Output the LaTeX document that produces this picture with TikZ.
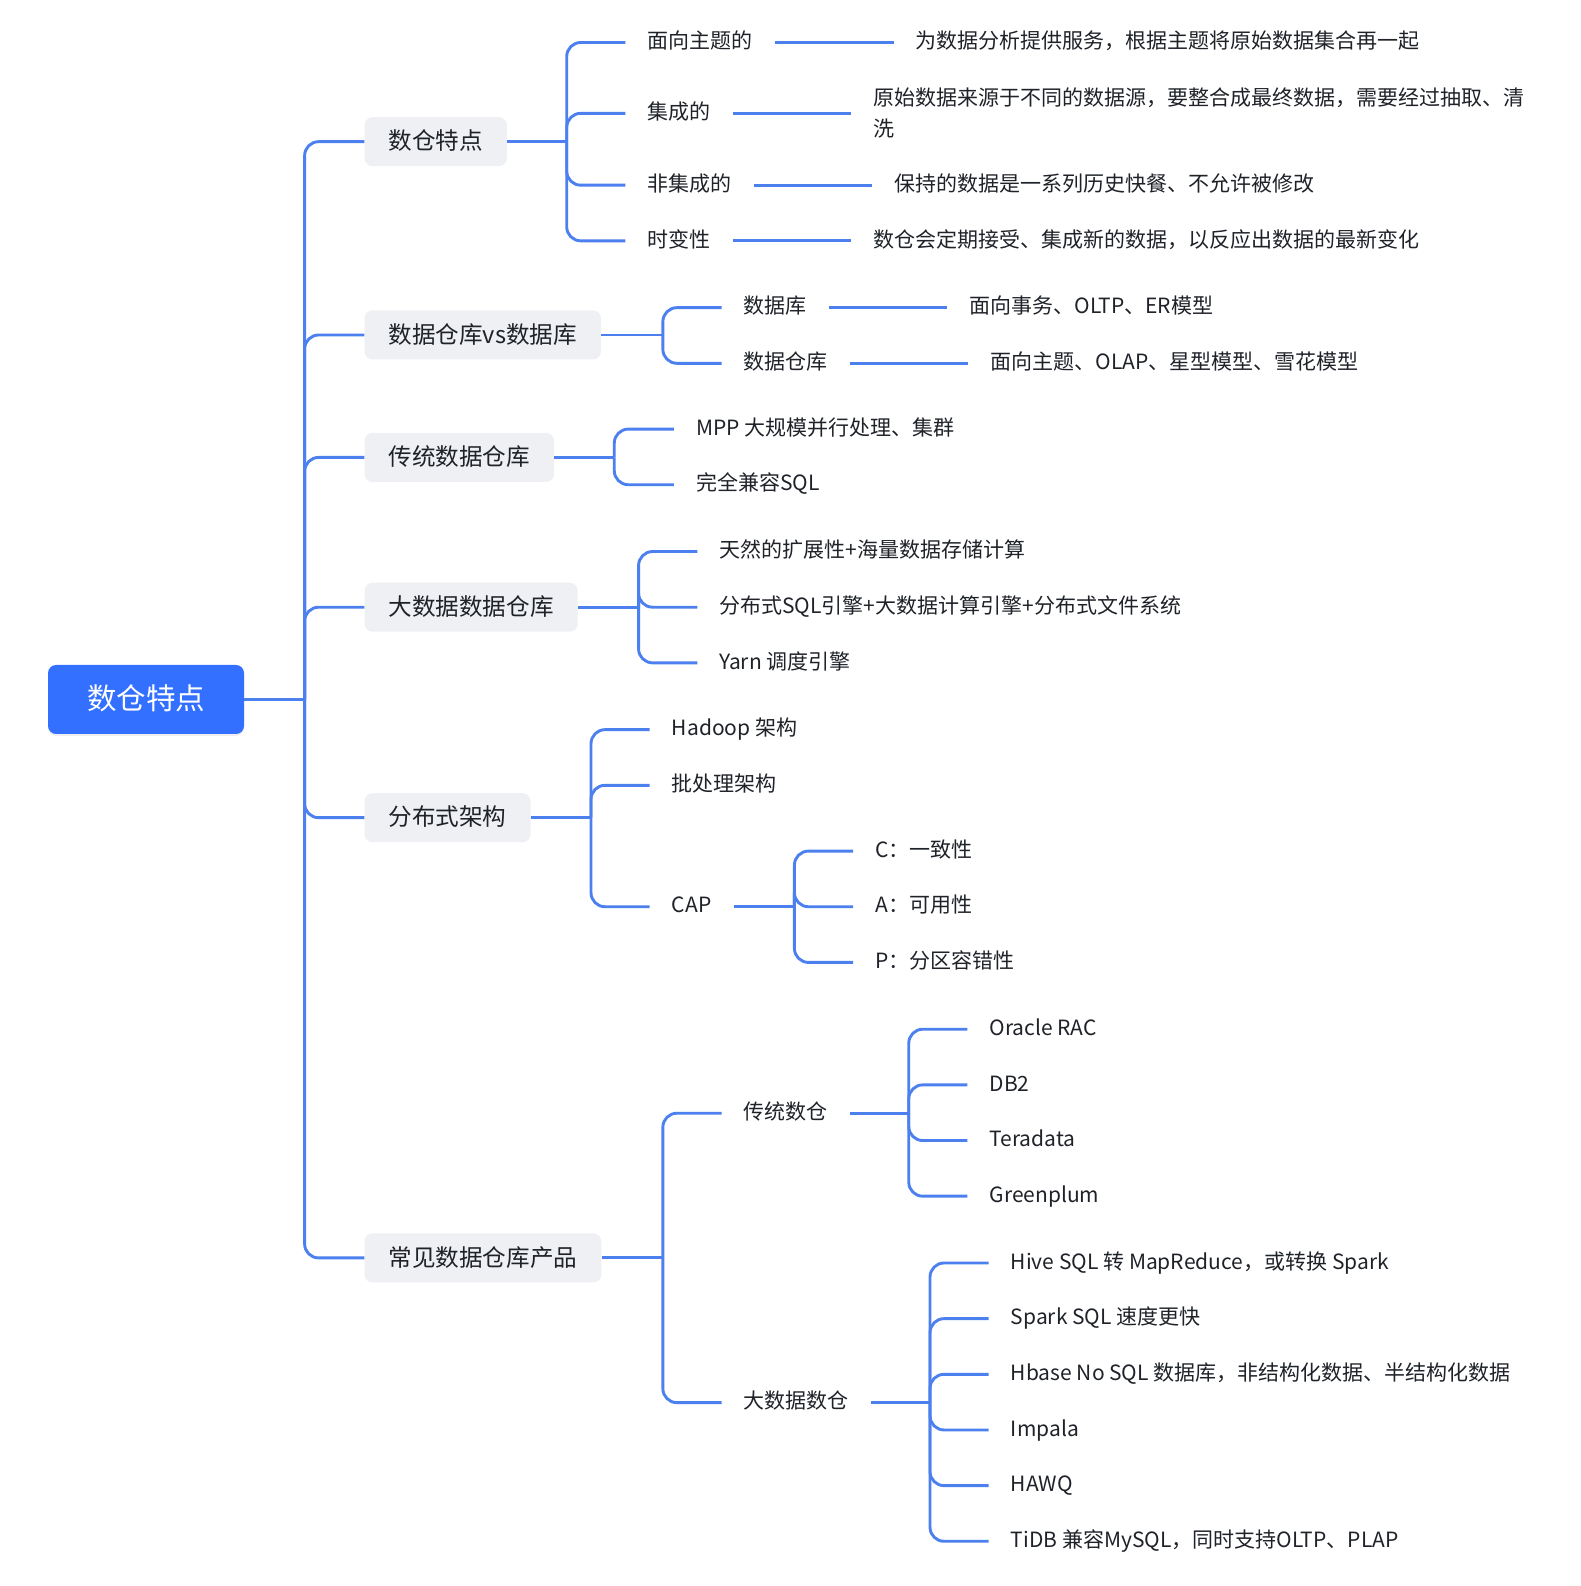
\documentclass[tikz,border=0pt]{standalone}
\usepackage{fontspec}
\setmainfont{Noto Sans CJK SC}
\usetikzlibrary{shadows}
\definecolor{lc}{HTML}{4D80EF}
\definecolor{rootc}{HTML}{3370FF}
\definecolor{grayc}{HTML}{EFF0F3}
\definecolor{txt}{HTML}{1F2329}
\begin{document}
\begin{tikzpicture}[x=1.012pt,y=-1.012pt,
  conn/.style={draw=lc,line width=2.9pt},
  branch/.style={conn,rounded corners=14pt},
  rootbox/.style={fill=rootc,rounded corners=8pt,text=white,font=\fontsize{29.5}{34}\selectfont,minimum width=196pt,minimum height=69pt,inner sep=0pt,text height=22pt,text depth=1.4pt,drop shadow={opacity=0.12,shadow xshift=0pt,shadow yshift=-2pt}},
  lone/.style={fill=grayc,rounded corners=8pt,text=txt,font=\fontsize{23.6}{28}\selectfont,inner xsep=24pt,inner ysep=0pt,minimum height=49pt,anchor=west,text height=18pt,text depth=1.4pt},
  leaf/.style={text=txt,font=\fontsize{21}{31}\selectfont,inner xsep=22pt,inner ysep=3pt,anchor=west,align=left,text height=15pt,text depth=2.6pt}]
\useasboundingbox (0pt,0pt) rectangle (1580pt,-1586pt);
\fill[white] (0pt,0pt) rectangle (1580pt,-1586pt);

% root
\node[rootbox] (root) at (144.3,691.2) {数仓特点};
\coordinate (T) at (301,691.2);
\draw[conn] (root.east) -- (T);

% level 1
\node[lone] (a) at (360,140) {数仓特点};
\node[lone] (b) at (360,331) {数据仓库vs数据库};
\node[lone] (c) at (360,452) {传统数据仓库};
\node[lone] (d) at (360,600) {大数据数据仓库};
\node[lone] (e) at (360,808) {分布式架构};
\node[lone] (f) at (360,1243) {常见数据仓库产品};
\foreach \n in {a,b,c,d,e,f} \draw[branch] (T) |- (\n.west);

% a
\coordinate (Ja) at (560,140);
\draw[conn] (a.east) -- (Ja);
\node[leaf] (a1) at (618,42) {面向主题的};
\node[leaf] (a2) at (618,112) {集成的};
\node[leaf] (a3) at (618,183) {非集成的};
\node[leaf] (a4) at (618,238) {时变性};
\foreach \n in {a1,a2,a3,a4} \draw[branch] (Ja) |- (\n.west);
\node[leaf] (a1d) at (883,42) {为数据分析提供服务，根据主题将原始数据集合再一起};
\node[leaf,text height=48pt] (a2d) at (841,112) {原始数据来源于不同的数据源，要整合成最终数据，需要经过抽取、清\\洗};
\node[leaf] (a3d) at (862,183) {保持的数据是一系列历史快餐、不允许被修改};
\node[leaf] (a4d) at (841,238) {数仓会定期接受、集成新的数据，以反应出数据的最新变化};
\foreach \n in {a1,a2,a3,a4} \draw[conn] (\n.east) -- (\n d.west |- \n.east);

% b
\coordinate (Jb) at (655,331);
\draw[conn] (b.east) -- (Jb);
\node[leaf] (b1) at (713,304) {数据库};
\node[leaf] (b2) at (713,359) {数据仓库};
\foreach \n in {b1,b2} \draw[branch] (Jb) |- (\n.west);
\node[leaf] (b1d) at (936,304) {面向事务、OLTP、ER模型};
\node[leaf] (b2d) at (957,359) {面向主题、OLAP、星型模型、雪花模型};
\foreach \n in {b1,b2} \draw[conn] (\n.east) -- (\n d.west);

% c
\coordinate (Jc) at (607,452);
\draw[conn] (c.east) -- (Jc);
\node[leaf] (c1) at (666,424) {MPP 大规模并行处理、集群};
\node[leaf] (c2) at (666,479) {完全兼容SQL};
\foreach \n in {c1,c2} \draw[branch] (Jc) |- (\n.west);

% d
\coordinate (Jd) at (631,600);
\draw[conn] (d.east) -- (Jd);
\node[leaf] (d1) at (689,545) {天然的扩展性+海量数据存储计算};
\node[leaf] (d2) at (689,600) {分布式SQL引擎+大数据计算引擎+分布式文件系统};
\node[leaf] (d3) at (689,655) {Yarn 调度引擎};
\foreach \n in {d1,d2,d3} \draw[branch] (Jd) |- (\n.west);

% e
\coordinate (Je) at (584,808);
\draw[conn] (e.east) -- (Je);
\node[leaf] (e1) at (642,721) {Hadoop 架构};
\node[leaf] (e2) at (642,776) {批处理架构};
\node[leaf] (e3) at (642,896) {CAP};
\foreach \n in {e1,e2,e3} \draw[branch] (Je) |- (\n.west);
\coordinate (Jcap) at (785,896);
\draw[conn] (e3.east) -- (Jcap);
\node[leaf] (p1) at (843,841) {C：一致性};
\node[leaf] (p2) at (843,896) {A：可用性};
\node[leaf] (p3) at (843,951) {P：分区容错性};
\foreach \n in {p1,p2,p3} \draw[branch] (Jcap) |- (\n.west);

% f
\coordinate (Jf) at (655,1243);
\draw[conn] (f.east) -- (Jf);
\node[leaf] (f1) at (713,1100) {传统数仓};
\node[leaf] (f2) at (713,1386) {大数据数仓};
\foreach \n in {f1,f2} \draw[branch] (Jf) |- (\n.west);
\coordinate (Jf1) at (898,1100);
\draw[conn] (f1.east) -- (Jf1);
\node[leaf] (g1) at (956,1017) {Oracle RAC};
\node[leaf] (g2) at (956,1072) {DB2};
\node[leaf] (g3) at (956,1127) {Teradata};
\node[leaf] (g4) at (956,1182) {Greenplum};
\foreach \n in {g1,g2,g3,g4} \draw[branch] (Jf1) |- (\n.west);
\coordinate (Jf2) at (919,1386);
\draw[conn] (f2.east) -- (Jf2);
\node[leaf] (h1) at (977,1248) {Hive SQL 转 MapReduce，或转换 Spark};
\node[leaf] (h2) at (977,1303) {Spark SQL 速度更快};
\node[leaf] (h3) at (977,1358) {Hbase No SQL 数据库，非结构化数据、半结构化数据};
\node[leaf] (h4) at (977,1413) {Impala};
\node[leaf] (h5) at (977,1468) {HAWQ};
\node[leaf] (h6) at (977,1523) {TiDB 兼容MySQL，同时支持OLTP、PLAP};
\foreach \n in {h1,h2,h3,h4,h5,h6} \draw[branch] (Jf2) |- (\n.west);
\end{tikzpicture}
\end{document}
